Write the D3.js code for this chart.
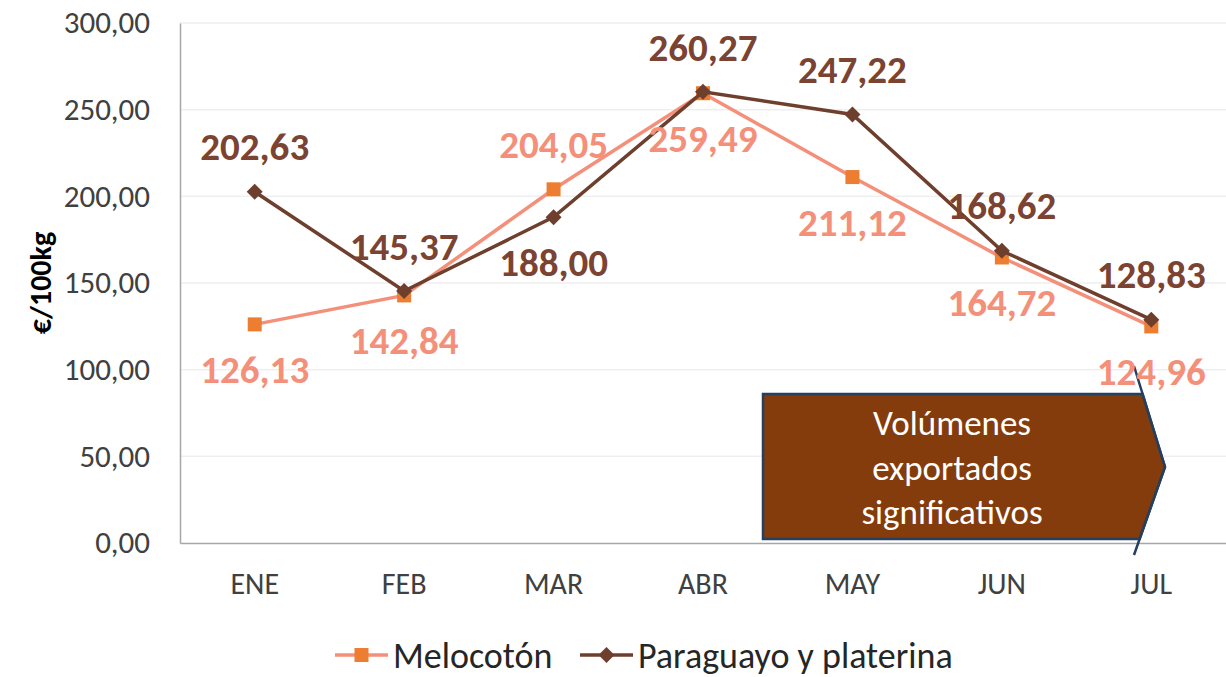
<!DOCTYPE html>
<html>
<head>
<meta charset="utf-8">
<script src="https://cdn.jsdelivr.net/npm/d3@7"></script>
<style>
  body { margin: 0; background: #fff; }
  svg { font-family: Carlito, Lato, sans-serif; }
</style>
</head>
<body>
<div id="chart"></div>
<script>
// Data
const months = ['ENE', 'FEB', 'MAR', 'ABR', 'MAY', 'JUN', 'JUL'];
const melocoton = [126.13, 142.84, 204.05, 259.49, 211.12, 164.72, 124.96];
const paraguayo = [202.63, 145.37, 188.00, 260.27, 247.22, 168.62, 128.83];
// label above (-1) or below (1) the point
const melocotonPos = [1, 1, -1, 1, 1, 1, 1];
const paraguayoPos = [-1, -1, 1, -1, -1, -1, -1];
const yTicks = [0, 50, 100, 150, 200, 250, 300];
const arrowLines = ['Volúmenes', 'exportados', 'significativos'];

const W = 1226;
const H = 677;
const margin = { top: 23, right: 0, bottom: 134, left: 180 };
const height = H - margin.top - margin.bottom;

const fmt = v => d3.format('.2f')(v).replace('.', ',');

const svg = d3.select('#chart')
  .append('svg')
  .attr('width', W)
  .attr('height', H);

const x = d3.scaleBand().domain(months).range([margin.left, W - margin.right]);
const y = d3.scaleLinear().domain([0, 300]).range([margin.top + height, margin.top]);
const cx = m => x(m) + x.bandwidth() / 2;

// Gridlines
svg.append('g')
  .selectAll('line')
  .data(yTicks.filter(t => t > 0))
  .enter()
  .append('line')
  .attr('x1', margin.left)
  .attr('x2', W)
  .attr('y1', d => y(d))
  .attr('y2', d => y(d))
  .attr('stroke', '#efefef')
  .attr('stroke-width', 1.5);

// Y axis
const yAxis = d3.axisLeft(y).tickValues(yTicks).tickFormat(fmt).tickSize(0).tickPadding(30);
const gy = svg.append('g')
  .attr('transform', `translate(${margin.left},0)`)
  .call(yAxis);
gy.select('.domain').attr('stroke', '#a6a6a6').attr('stroke-width', 1.5);
gy.selectAll('text')
  .attr('font-size', 31)
  .attr('fill', '#404040')
  .attr('font-family', 'Carlito, Lato, sans-serif');

// X axis
const xAxis = d3.axisBottom(x).tickSize(0).tickPadding(29);
const gx = svg.append('g')
  .attr('transform', `translate(0,${y(0)})`)
  .call(xAxis);
gx.select('.domain').attr('stroke', '#a6a6a6').attr('stroke-width', 1.5);
gx.selectAll('text')
  .attr('dy', '0.35em')
  .attr('y', 40)
  .attr('font-size', 30)
  .attr('fill', '#404040')
  .attr('font-family', 'Carlito, Lato, sans-serif');

// Y axis title
svg.append('text')
  .attr('transform', `translate(40,${y(150)}) rotate(-90)`)
  .attr('text-anchor', 'middle')
  .attr('dy', '0.35em')
  .attr('font-size', 30)
  .attr('font-weight', 'bold')
  .attr('fill', '#000')
  .text('€/100kg');

// Arrow annotation
const ax0 = 763, ay0 = 394, ay1 = 539, tipX = 1165, tipY = 467;
const xAt = yy => 1134 + (tipX - 1134) * (yy - 366) / (tipY - 366);
const xAtB = yy => 1134 + (tipX - 1134) * (555 - yy) / (555 - tipY);
svg.append('path')
  .attr('d', `M${ax0},${ay0}L${xAt(ay0)},${ay0}L${tipX},${tipY}L${xAtB(ay1)},${ay1}L${ax0},${ay1}Z`)
  .attr('fill', '#843c0c')
  .attr('stroke', '#243f60')
  .attr('stroke-width', 2.5);
svg.append('path')
  .attr('d', `M1134,366L${tipX},${tipY}L1134,555`)
  .attr('fill', 'none')
  .attr('stroke', '#243f60')
  .attr('stroke-width', 2.5);
svg.append('g')
  .selectAll('text')
  .data(arrowLines)
  .enter()
  .append('text')
  .attr('x', 952)
  .attr('y', (d, i) => 423 + i * 44.5)
  .attr('dy', '0.35em')
  .attr('text-anchor', 'middle')
  .attr('font-size', 35)
  .attr('fill', '#fff')
  .text(d => d);

const line = d3.line().x((d, i) => cx(months[i])).y(d => y(d));

// Series
const series = [
  { name: 'Melocotón', values: melocoton, pos: melocotonPos, line: '#f4907a', marker: '#ed7d31', label: '#f4907a', shape: 'square' },
  { name: 'Paraguayo y platerina', values: paraguayo, pos: paraguayoPos, line: '#6f3f2e', marker: '#6f3f2e', label: '#7b4331', shape: 'diamond' },
];

const markerPath = (shape) => shape === 'square'
  ? 'M-7,-7h14v14h-14z'
  : 'M0,-8L8,0L0,8L-8,0Z';

series.forEach((s) => {
  svg.append('path')
    .datum(s.values)
    .attr('d', line)
    .attr('fill', 'none')
    .attr('stroke', s.line)
    .attr('stroke-width', 3.5);

  svg.append('g')
    .selectAll('path')
    .data(s.values)
    .enter()
    .append('path')
    .attr('transform', (d, i) => `translate(${cx(months[i])},${y(d)})`)
    .attr('d', markerPath(s.shape))
    .attr('fill', s.marker);
});

series.forEach((s) => {
  svg.append('g')
    .selectAll('text')
    .data(s.values)
    .enter()
    .append('text')
    .attr('x', (d, i) => cx(months[i]))
    .attr('y', (d, i) => y(d) + s.pos[i] * 45)
    .attr('dy', '0.35em')
    .attr('text-anchor', 'middle')
    .attr('font-size', 39)
    .attr('font-weight', 'bold')
    .attr('fill', s.label)
    .text(fmt);
});

// Legend
const legend = svg.append('g').attr('transform', 'translate(0,655)');
const legendItems = [
  { s: series[0], x0: 335, x1: 388, tx: 393 },
  { s: series[1], x0: 580, x1: 633, tx: 638 },
];
legendItems.forEach((it) => {
  legend.append('line')
    .attr('x1', it.x0).attr('x2', it.x1)
    .attr('y1', 0).attr('y2', 0)
    .attr('stroke', it.s.line)
    .attr('stroke-width', 3.5);
  legend.append('path')
    .attr('transform', `translate(${(it.x0 + it.x1) / 2},0)`)
    .attr('d', markerPath(it.s.shape))
    .attr('fill', it.s.marker);
  legend.append('text')
    .attr('x', it.tx)
    .attr('y', 0)
    .attr('dy', '0.35em')
    .attr('font-size', 36)
    .attr('fill', '#262626')
    .text(it.s.name);
});
</script>
</body>
</html>
